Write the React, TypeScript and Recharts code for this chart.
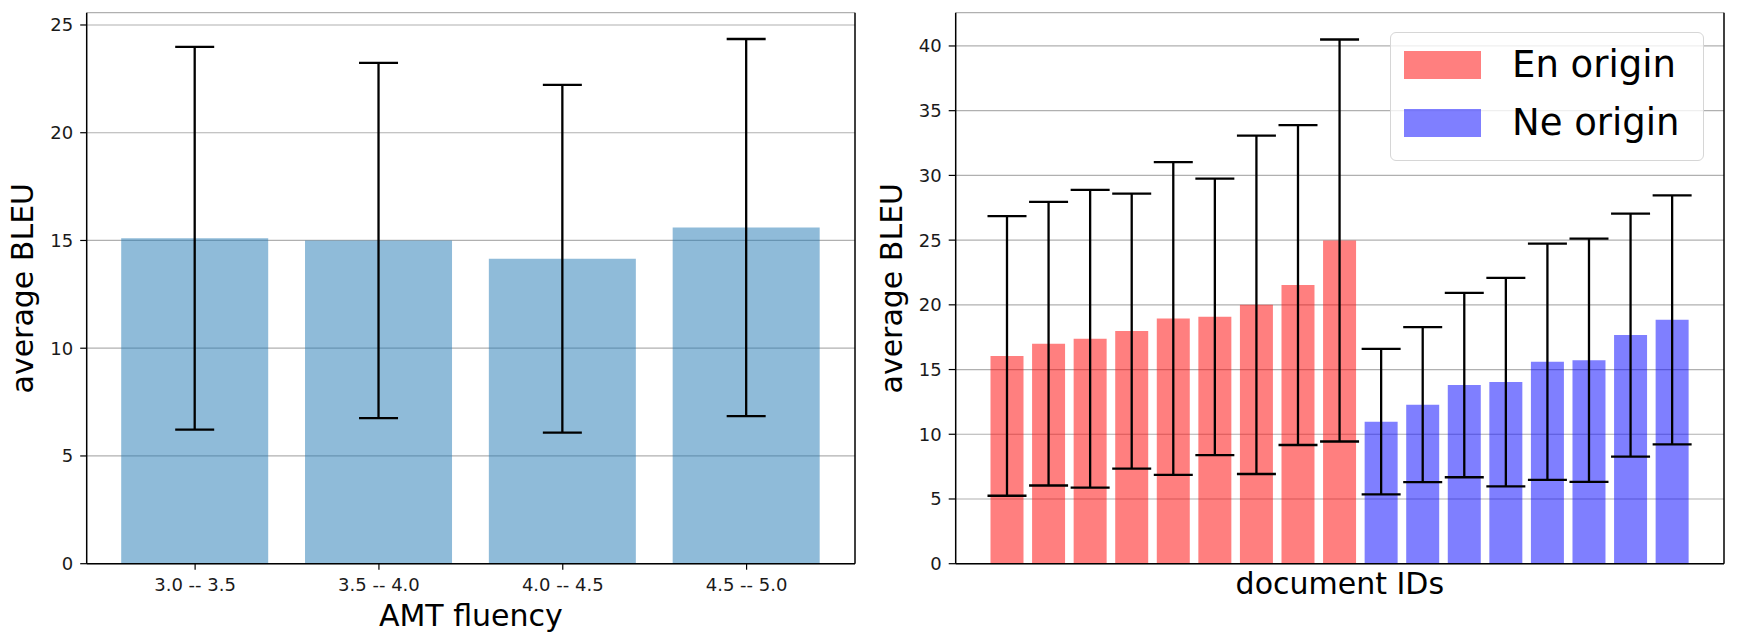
import React from 'react';
import { BarChart, Bar, XAxis, YAxis, CartesianGrid, ErrorBar, Cell, Legend, Label } from 'recharts';

// ---------- data: left panel (AMT fluency) ----------
const fluencyBins = ['3.0 -- 3.5', '3.5 -- 4.0', '4.0 -- 4.5', '4.5 -- 5.0'];
const fluencyMean = [15.1, 15.0, 14.15, 15.6];
const fluencySd = [8.88, 8.24, 8.07, 8.75];
const fluencyTicks = [0, 5, 10, 15, 20, 25];

// ---------- data: right panel (documents) ----------
const docIds = ['en1', 'en2', 'en3', 'en4', 'en5', 'en6', 'en7', 'en8', 'en9', 'ne1', 'ne2', 'ne3', 'ne4', 'ne5', 'ne6', 'ne7', 'ne8'];
const docOrigin = ['En', 'En', 'En', 'En', 'En', 'En', 'En', 'En', 'En', 'Ne', 'Ne', 'Ne', 'Ne', 'Ne', 'Ne', 'Ne', 'Ne'];
const docMean = [16.05, 17.0, 17.38, 17.97, 18.95, 19.07, 20.0, 21.53, 24.97, 10.97, 12.29, 13.8, 14.03, 15.6, 15.72, 17.66, 18.84];
const docSd = [10.8, 10.96, 11.5, 10.62, 12.08, 10.68, 13.07, 12.36, 15.53, 5.62, 5.99, 7.12, 8.05, 9.13, 9.4, 9.38, 9.62];
const docTicks = [0, 5, 10, 15, 20, 25, 30, 35, 40];

const originKeys = ['En', 'Ne'];
const legendLabels = ['En origin', 'Ne origin'];
const originColors = ['#ff0000', '#0000ff'];

const fluencyData = fluencyBins.map((bin, i) => ({ bin, mean: fluencyMean[i], sd: fluencySd[i] }));
const docData = docIds.map((id, i) => ({ id, origin: docOrigin[i], mean: docMean[i], sd: docSd[i] }));

const FONT = '"DejaVu Sans", Verdana, sans-serif';
const tickStyle = { fill: '#1a1a1a', fontSize: 18, fontFamily: FONT };
const labelStyle = { fontSize: 30, fontFamily: FONT, fill: '#000', textAnchor: 'middle' as const };
const axisLine = { stroke: '#000', strokeWidth: 1.5 };
const tickLine = { stroke: '#000', strokeWidth: 1.2 };

const DocLegend = () => (
  <div
    style={{
      position: 'relative',
      width: 314,
      height: 129,
      boxSizing: 'border-box',
      border: '1.3px solid #d6d6d6',
      borderRadius: 6,
      background: 'rgba(255,255,255,0.8)',
      fontFamily: FONT,
    }}
  >
    {legendLabels.map((label, i) => (
      <div
        key={label}
        style={{ position: 'absolute', left: 13, top: 18 + i * 58, display: 'flex', alignItems: 'center', height: 28 }}
      >
        <div style={{ width: 77, height: 28, background: originColors[i], opacity: 0.5 }} />
        <span style={{ marginLeft: 31, fontSize: 37, lineHeight: '28px', color: '#000', whiteSpace: 'nowrap' }}>{label}</span>
      </div>
    ))}
  </div>
);

export default function App() {
  return (
    <div style={{ position: 'absolute', left: 0, top: 0, width: 1738, height: 643, background: '#fff' }}>
      <div style={{ position: 'absolute', left: 0, top: 0 }}>
        <BarChart
          width={870}
          height={643}
          data={fluencyData}
          margin={{ top: 12.7, right: 14, bottom: 9.3, left: 0 }}
          barSize={147}
        >
          <CartesianGrid xAxisId="x" yAxisId="y" vertical={false} stroke="#b0b0b0" strokeWidth={1.2} />
          <XAxis
            xAxisId="x"
            dataKey="bin"
            height={70}
            padding={{ left: 16.5, right: 16.5 }}
            tick={tickStyle}
            tickSize={6}
            tickMargin={9}
            axisLine={axisLine}
            tickLine={tickLine}
            interval={0}
          >
            <Label value="AMT fluency" position="insideBottom" offset={7.7} style={labelStyle} />
          </XAxis>
          <XAxis xAxisId="xt" dataKey="bin" orientation="top" height={0} tick={false} tickLine={false} axisLine={axisLine} />
          <YAxis
            yAxisId="y"
            width={86.7}
            domain={[0, 25.57]}
            allowDataOverflow
            ticks={fluencyTicks}
            tick={tickStyle}
            tickSize={6.5}
            tickMargin={7}
            axisLine={axisLine}
            tickLine={tickLine}
          >
            <Label value="average BLEU" angle={-90} position="insideLeft" offset={22} style={labelStyle} />
          </YAxis>
          <YAxis yAxisId="yr" orientation="right" width={1} domain={[0, 25.57]} tick={false} tickLine={false} axisLine={axisLine} />
          <Bar xAxisId="x" yAxisId="y" dataKey="mean" fill="#1f77b4" fillOpacity={0.5} isAnimationActive={false}>
            <ErrorBar dataKey="sd" width={19.5} stroke="#000" strokeWidth={2.3} direction="y" isAnimationActive={false} />
          </Bar>
        </BarChart>
      </div>

      <div style={{ position: 'absolute', left: 870, top: 0 }}>
        <BarChart
          width={868}
          height={643}
          data={docData}
          margin={{ top: 12.7, right: 13, bottom: 9.3, left: 0 }}
          barSize={33}
        >
          <CartesianGrid xAxisId="x" yAxisId="y" vertical={false} stroke="#b0b0b0" strokeWidth={1.2} />
          <XAxis
            xAxisId="x"
            dataKey="id"
            height={70}
            padding={{ left: 30.8, right: 30.8 }}
            tick={false}
            tickLine={false}
            axisLine={axisLine}
            interval={0}
          >
            <Label value="document IDs" position="insideBottom" offset={39.4} style={labelStyle} />
          </XAxis>
          <XAxis xAxisId="xt" dataKey="id" orientation="top" height={0} tick={false} tickLine={false} axisLine={axisLine} />
          <YAxis
            yAxisId="y"
            width={85.7}
            domain={[0, 42.57]}
            allowDataOverflow
            ticks={docTicks}
            tick={tickStyle}
            tickSize={7}
            tickMargin={7}
            axisLine={axisLine}
            tickLine={tickLine}
          >
            <Label value="average BLEU" angle={-90} position="insideLeft" offset={21.5} style={labelStyle} />
          </YAxis>
          <YAxis yAxisId="yr" orientation="right" width={1} domain={[0, 42.57]} tick={false} tickLine={false} axisLine={axisLine} />
          <Legend
            layout="vertical"
            align="center"
            verticalAlign="middle"
            content={() => <DocLegend />}
            wrapperStyle={{ position: 'absolute', left: 520, top: 32.3, width: 314, height: 129 }}
          />
          <Bar xAxisId="x" yAxisId="y" dataKey="mean" fillOpacity={0.5} isAnimationActive={false}>
            {docData.map((d) => (
              <Cell key={d.id} fill={originColors[originKeys.indexOf(d.origin)]} />
            ))}
            <ErrorBar dataKey="sd" width={19.5} stroke="#000" strokeWidth={2.3} direction="y" isAnimationActive={false} />
          </Bar>
        </BarChart>
      </div>
    </div>
  );
}
